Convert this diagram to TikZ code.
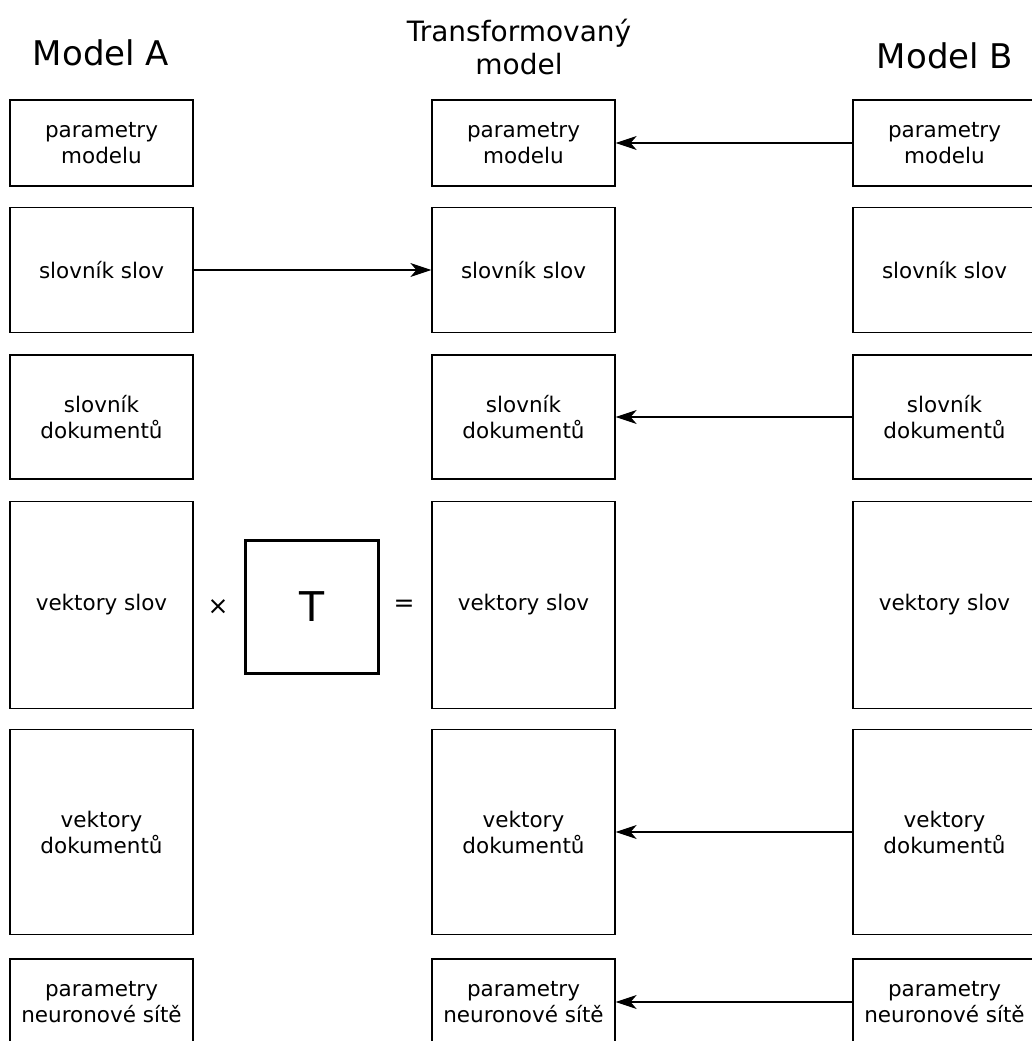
\documentclass[tikz,border=0pt]{standalone}
\usepackage{fontspec}
\setmainfont{DejaVu Sans}
\usetikzlibrary{arrows.meta}

\tikzset{
  box/.style={draw,line width=1.3pt,minimum width=183pt,inner sep=0pt,align=center,
    font=\fontsize{21.5}{26}\selectfont},
  title/.style={align=center,inner sep=0pt},
  link/.style={-{Stealth[length=21pt,width=14pt,inset=6pt]},line width=1.2pt}
}

\begin{document}
\begin{tikzpicture}[x=1pt,y=-1pt]
  \useasboundingbox (0,0) rectangle (1032,1041);
  \clip (0,0) rectangle (1032,1041);
  % titles
  \node[title,anchor=base,font=\fontsize{34}{40}\selectfont] (ta) at (101,66) {Model A};
  \node[title,font=\fontsize{28}{33}\selectfont] (tt) at (519,47) {Transformovaný\\model};
  \node[title,anchor=base,font=\fontsize{34}{40}\selectfont] (tb) at (945,68) {Model B};
  % model A
  \node[box,minimum height=86pt]  (a1) at (101.5,143) {parametry\\modelu};
  \node[box,minimum height=125pt] (a2) at (101.5,270) {slovník slov};
  \node[box,minimum height=124pt] (a3) at (101.5,417) {slovník\\dokumentů};
  \node[box,minimum height=207pt] (a4) at (101.5,605) {vektory slov};
  \node[box,minimum height=205pt] (a5) at (101.5,832) {vektory\\dokumentů};
  \node[box,minimum height=86pt]  (a6) at (101.5,1002) {parametry\\neuronové sítě};
  % transformovany model
  \node[box,minimum height=86pt]  (t1) at (523.5,143) {parametry\\modelu};
  \node[box,minimum height=125pt] (t2) at (523.5,270) {slovník slov};
  \node[box,minimum height=124pt] (t3) at (523.5,417) {slovník\\dokumentů};
  \node[box,minimum height=207pt] (t4) at (523.5,605) {vektory slov};
  \node[box,minimum height=205pt] (t5) at (523.5,832) {vektory\\dokumentů};
  \node[box,minimum height=86pt]  (t6) at (523.5,1002) {parametry\\neuronové sítě};
  % model B
  \node[box,minimum height=86pt]  (b1) at (944.5,143) {parametry\\modelu};
  \node[box,minimum height=125pt] (b2) at (944.5,270) {slovník slov};
  \node[box,minimum height=124pt] (b3) at (944.5,417) {slovník\\dokumentů};
  \node[box,minimum height=207pt] (b4) at (944.5,605) {vektory slov};
  \node[box,minimum height=205pt] (b5) at (944.5,832) {vektory\\dokumentů};
  \node[box,minimum height=86pt]  (b6) at (944.5,1002) {parametry\\neuronové sítě};
  % transformation
  \node[font=\fontsize{25}{28}\selectfont] (times) at (218,607) {×};
  \node[draw,line width=3pt,minimum size=133pt,inner sep=0pt,font=\fontsize{41}{48}\selectfont] (T) at (312,607) {T};
  \node[font=\fontsize{25}{28}\selectfont] (eq) at (404,606) {=};
  % arrows
  \draw[link] (b1) -- (t1);
  \draw[link] (a2) -- (t2);
  \draw[link] (b3) -- (t3);
  \draw[link] (b5) -- (t5);
  \draw[link] (b6) -- (t6);
\end{tikzpicture}
\end{document}
